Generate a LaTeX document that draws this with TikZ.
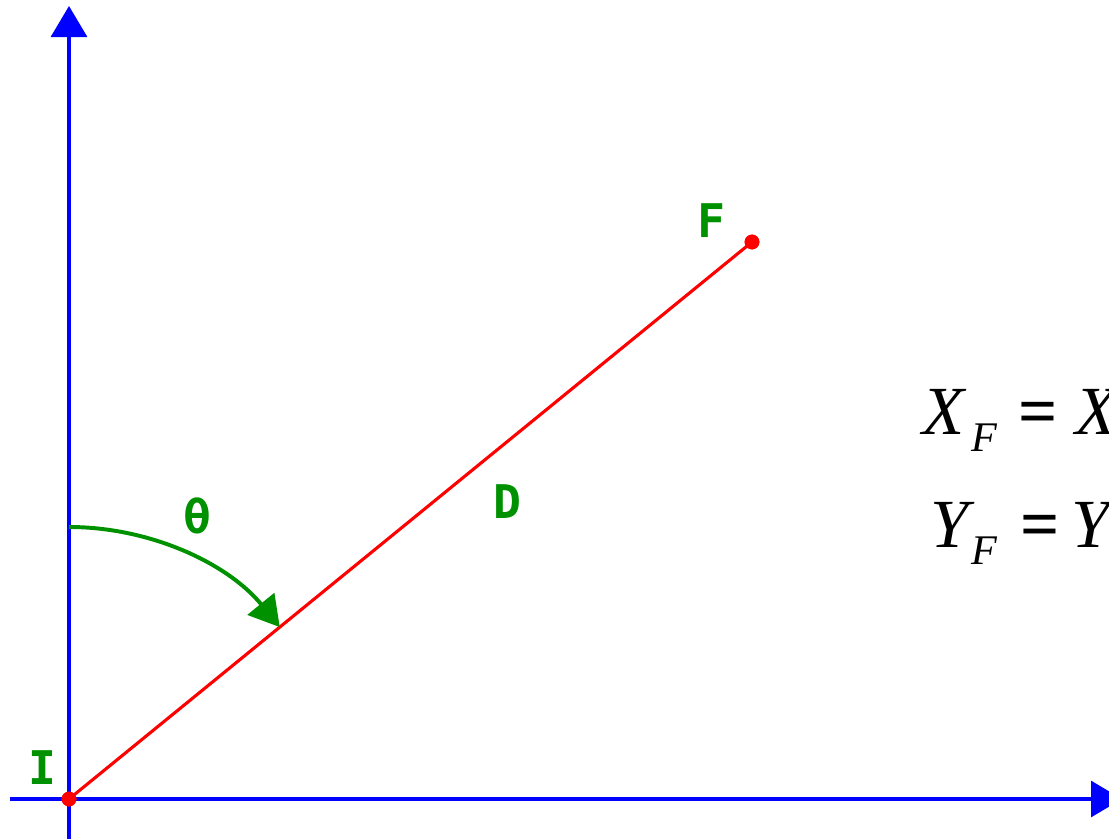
\documentclass[tikz,border=0pt]{standalone}
\usepackage{fontspec}
\setmainfont{Liberation Serif}
\newfontfamily\lblfont{DejaVu Sans Mono}
\usetikzlibrary{arrows.meta,positioning}

\definecolor{axisblue}{RGB}{0,0,255}
\definecolor{segred}{RGB}{255,0,0}
\definecolor{lblgreen}{RGB}{0,145,0}

\begin{document}
\begin{tikzpicture}[x=0.025cm, y=-0.025cm,
    axis/.style={draw=axisblue, line width=2.2pt, -{Triangle[length=0.775cm,width=0.9cm]}},
    segment/.style={draw=segred, line width=2.2pt},
    endpoint/.style={circle, fill=segred, inner sep=0pt, minimum size=0.37cm},
    ptlabel/.style={text=lblgreen, font=\lblfont\bfseries\fontsize{33}{33}\selectfont, inner sep=0pt},
    anglearrow/.style={draw=lblgreen, line width=2.8pt, -{Triangle[length=0.75cm,width=0.85cm]}},
    formula/.style={anchor=base west, inner sep=0pt, font=\fontsize{49}{49}\selectfont}
]

\useasboundingbox (0,0) rectangle (1109,839);
\clip (0,0) rectangle (1109,839);

% Axes
\coordinate (xstart) at (10,799);
\coordinate (xend) at (1122,799);
\coordinate (ystart) at (69,845);
\coordinate (yend) at (69,6);
\draw[axis] (xstart) -- (xend);
\draw[axis] (ystart) -- (yend);

% Displacement
\node[endpoint] (initial) at (69,799) {};
\node[endpoint] (final) at (752,242) {};
\draw[segment] (initial.center) -- (final.center);
\node[endpoint] at (initial.center) {};
\node[endpoint] at (final.center) {};

% Angle
\coordinate (arcstart) at (69,527);
\draw[anglearrow] (arcstart) arc[start angle=-90, end angle=-39.2, radius=272];

% Labels
\node[ptlabel] (lblI) at (42,768) {I};
\node[ptlabel] (lblF) at (711,221) {F};
\node[ptlabel] (lblD) at (507,502) {D};
\node[ptlabel] (lbltheta) at (197,516) {θ};

% Formulas
\node[formula] (eqx) at (922,434) {\textit{X}\hspace{0.12cm}\raisebox{-0.425cm}{\fontsize{30}{30}\selectfont\textit{F}}\hspace{0.53cm}\textbf{=}\hspace{0.45cm}\textit{X}\raisebox{-0.425cm}{\fontsize{30}{30}\selectfont\textit{I}}};
\node[formula] (eqy) at (930,547) {\textit{Y}\hspace{-0.07cm}\raisebox{-0.425cm}{\fontsize{30}{30}\selectfont\textit{F}}\hspace{0.55cm}\textbf{=}\hspace{0.3cm}\textit{Y}\raisebox{-0.425cm}{\fontsize{30}{30}\selectfont\textit{I}}};

\end{tikzpicture}
\end{document}
